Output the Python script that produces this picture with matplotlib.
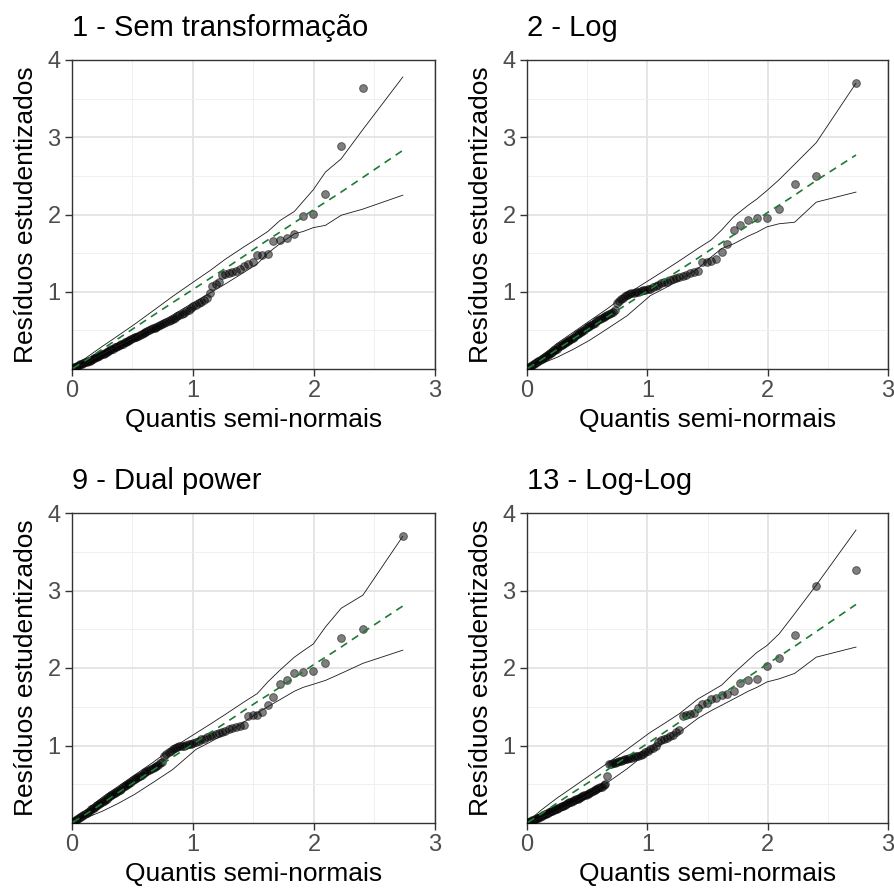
import numpy as np
import matplotlib
matplotlib.use("Agg")
import matplotlib.pyplot as plt
from matplotlib.ticker import MultipleLocator

plt.rcParams['font.family'] = ['Liberation Sans', 'DejaVu Sans']

nan = np.nan

# Half-normal theoretical quantiles for n = 100 ordered residuals
quantis = [0.008, 0.020, 0.033, 0.045, 0.058, 0.070, 0.083, 0.095, 0.108, 0.121,
           0.133, 0.146, 0.159, 0.171, 0.184, 0.197, 0.209, 0.222, 0.235, 0.248,
           0.261, 0.274, 0.287, 0.300, 0.313, 0.326, 0.339, 0.353, 0.366, 0.379,
           0.393, 0.406, 0.420, 0.434, 0.447, 0.461, 0.475, 0.489, 0.503, 0.518,
           0.532, 0.546, 0.561, 0.576, 0.591, 0.605, 0.621, 0.636, 0.651, 0.667,
           0.682, 0.698, 0.714, 0.731, 0.747, 0.764, 0.780, 0.798, 0.815, 0.832,
           0.850, 0.868, 0.887, 0.905, 0.924, 0.944, 0.963, 0.984, 1.004, 1.025,
           1.046, 1.068, 1.091, 1.114, 1.137, 1.161, 1.186, 1.212, 1.238, 1.266,
           1.294, 1.324, 1.354, 1.386, 1.420, 1.455, 1.492, 1.531, 1.573, 1.618,
           1.664, 1.717, 1.774, 1.838, 1.910, 1.994, 2.095, 2.224, 2.404, 2.734]

# Order positions (1-based) at which the simulated envelope is recorded
env_pos = [1, 10, 20, 30, 40, 50, 60, 70, 75, 80, 85, 88, 90, 92, 94, 95, 96, 97, 98, 99, 100]

titulos = ["1 - Sem transformação", "2 - Log", "9 - Dual power", "13 - Log-Log"]

# Sorted absolute studentized residuals
res_sem = [0.01, 0.02, 0.03, 0.04, 0.05, 0.06, 0.07, 0.075, 0.085, 0.095,
           0.10, 0.11, 0.12, 0.13, 0.14, 0.15, 0.16, 0.17, 0.18, 0.19,
           0.20, 0.21, 0.22, 0.235, 0.245, 0.255, 0.265, 0.28, 0.29, 0.30,
           0.31, 0.32, 0.33, 0.345, 0.355, 0.365, 0.375, 0.39, 0.40, 0.41,
           0.42, 0.43, 0.445, 0.455, 0.465, 0.48, 0.49, 0.50, 0.515, 0.525,
           0.535, 0.545, 0.555, 0.57, 0.58, 0.595, 0.61, 0.625, 0.64, 0.65,
           0.665, 0.68, 0.70, 0.715, 0.73, 0.75, 0.77, 0.79, 0.81, 0.83,
           0.85, 0.87, 0.89, 0.92, 0.98, 1.07, 1.10, 1.12, 1.22, 1.23,
           1.24, 1.26, 1.27, 1.30, 1.33, 1.36, 1.39, 1.47, 1.47, 1.49,
           1.66, 1.67, 1.70, 1.75, 1.98, 2.01, 2.26, 2.89, 3.64, nan]

res_log = [0.01, 0.02, 0.035, 0.05, 0.06, 0.075, 0.09, 0.10, 0.115, 0.13,
           0.14, 0.155, 0.17, 0.185, 0.20, 0.21, 0.225, 0.24, 0.25, 0.265,
           0.28, 0.295, 0.31, 0.32, 0.335, 0.35, 0.365, 0.38, 0.39, 0.405,
           0.42, 0.435, 0.45, 0.465, 0.48, 0.495, 0.51, 0.525, 0.54, 0.555,
           0.57, 0.585, 0.60, 0.615, 0.63, 0.645, 0.66, 0.675, 0.69, 0.705,
           0.715, 0.725, 0.74, 0.76, 0.85, 0.88, 0.90, 0.92, 0.94, 0.96,
           0.97, 0.98, 0.99, 1.00, 1.00, 1.01, 1.02, 1.02, 1.03, 1.04,
           1.06, 1.08, 1.09, 1.11, 1.12, 1.13, 1.15, 1.16, 1.18, 1.19,
           1.21, 1.22, 1.24, 1.25, 1.27, 1.39, 1.39, 1.40, 1.42, 1.52,
           1.62, 1.80, 1.86, 1.93, 1.95, 1.96, 2.07, 2.39, 2.50, 3.70]

res_dual = [0.01, 0.025, 0.04, 0.05, 0.065, 0.08, 0.09, 0.105, 0.12, 0.13,
            0.145, 0.16, 0.175, 0.19, 0.20, 0.215, 0.23, 0.245, 0.26, 0.27,
            0.285, 0.30, 0.315, 0.33, 0.345, 0.355, 0.37, 0.385, 0.40, 0.415,
            0.43, 0.445, 0.46, 0.475, 0.49, 0.505, 0.52, 0.535, 0.55, 0.565,
            0.58, 0.595, 0.61, 0.625, 0.64, 0.655, 0.67, 0.685, 0.70, 0.715,
            0.725, 0.735, 0.75, 0.77, 0.79, 0.86, 0.89, 0.91, 0.93, 0.95,
            0.97, 0.98, 0.99, 1.00, 1.00, 1.01, 1.02, 1.02, 1.03, 1.04,
            1.06, 1.08, 1.09, 1.11, 1.12, 1.13, 1.15, 1.16, 1.18, 1.19,
            1.21, 1.22, 1.24, 1.25, 1.27, 1.38, 1.39, 1.40, 1.43, 1.52,
            1.63, 1.80, 1.85, 1.94, 1.95, 1.96, 2.07, 2.39, 2.50, 3.70]

res_loglog = [0.01, 0.015, 0.025, 0.035, 0.045, 0.055, 0.065, 0.07, 0.08, 0.09,
              0.10, 0.11, 0.12, 0.13, 0.14, 0.15, 0.16, 0.165, 0.175, 0.185,
              0.195, 0.205, 0.215, 0.225, 0.235, 0.245, 0.255, 0.265, 0.275, 0.285,
              0.295, 0.305, 0.315, 0.325, 0.335, 0.345, 0.355, 0.365, 0.375, 0.39,
              0.40, 0.41, 0.42, 0.435, 0.45, 0.46, 0.47, 0.485, 0.50, 0.61,
              0.76, 0.765, 0.77, 0.78, 0.79, 0.80, 0.805, 0.81, 0.82, 0.83,
              0.835, 0.84, 0.85, 0.86, 0.87, 0.88, 0.89, 0.91, 0.93, 0.95,
              0.97, 1.00, 1.05, 1.07, 1.09, 1.10, 1.12, 1.14, 1.17, 1.20,
              1.38, 1.39, 1.41, 1.42, 1.48, 1.53, 1.55, 1.60, 1.61, 1.65,
              1.67, 1.70, 1.81, 1.84, 1.86, 2.02, 2.13, 2.42, 3.06, 3.27]

# Simulated envelope: lower band, median, upper band
inf_sem = [0.0, 0.08, 0.19, 0.30, 0.41, 0.55, 0.70, 0.88, 0.98, 1.10, 1.25, 1.36, 1.50, 1.62, 1.75, 1.78, 1.83, 1.86, 1.99, 2.07, 2.25]
med_sem = [0.01, 0.12, 0.255, 0.39, 0.535, 0.69, 0.86, 1.055, 1.17, 1.30, 1.46, 1.58, 1.67, 1.77, 1.895, 1.97, 2.06, 2.16, 2.29, 2.48, 2.83]
sup_sem = [0.01, 0.15, 0.29, 0.43, 0.58, 0.75, 0.94, 1.15, 1.27, 1.42, 1.58, 1.69, 1.78, 1.92, 2.04, 2.17, 2.32, 2.55, 2.72, 3.10, 3.78]

inf_log = [0.0, 0.07, 0.15, 0.25, 0.37, 0.52, 0.69, 0.95, 1.04, 1.15, 1.30, 1.45, 1.56, 1.62, 1.72, 1.77, 1.84, 1.88, 1.90, 2.16, 2.29]
med_log = [0.01, 0.12, 0.25, 0.385, 0.525, 0.675, 0.84, 1.035, 1.15, 1.28, 1.435, 1.55, 1.635, 1.735, 1.86, 1.93, 2.02, 2.12, 2.25, 2.44, 2.77]
sup_log = [0.02, 0.17, 0.33, 0.47, 0.62, 0.78, 0.97, 1.16, 1.27, 1.40, 1.56, 1.67, 1.80, 1.97, 2.12, 2.20, 2.31, 2.45, 2.65, 2.93, 3.70]

inf_dual = [0.0, 0.07, 0.15, 0.25, 0.37, 0.52, 0.69, 0.95, 1.04, 1.15, 1.30, 1.42, 1.50, 1.59, 1.70, 1.75, 1.79, 1.84, 1.93, 2.06, 2.23]
med_dual = [0.01, 0.12, 0.25, 0.39, 0.53, 0.68, 0.85, 1.045, 1.16, 1.29, 1.45, 1.565, 1.65, 1.75, 1.875, 1.95, 2.04, 2.14, 2.27, 2.46, 2.80]
sup_dual = [0.02, 0.17, 0.33, 0.47, 0.62, 0.78, 0.97, 1.16, 1.27, 1.40, 1.56, 1.67, 1.82, 1.97, 2.14, 2.22, 2.31, 2.53, 2.77, 2.94, 3.70]

inf_loglog = [0.0, 0.07, 0.15, 0.25, 0.37, 0.52, 0.70, 0.94, 1.04, 1.17, 1.35, 1.45, 1.52, 1.60, 1.70, 1.75, 1.82, 1.86, 1.93, 2.14, 2.27]
med_loglog = [0.01, 0.12, 0.255, 0.39, 0.53, 0.685, 0.855, 1.05, 1.165, 1.30, 1.455, 1.57, 1.66, 1.76, 1.885, 1.96, 2.05, 2.15, 2.28, 2.47, 2.82]
sup_loglog = [0.02, 0.17, 0.32, 0.46, 0.61, 0.77, 0.95, 1.17, 1.28, 1.41, 1.60, 1.70, 1.78, 1.93, 2.10, 2.20, 2.29, 2.44, 2.70, 3.07, 3.78]

paineis = [
    (res_sem, inf_sem, med_sem, sup_sem),
    (res_log, inf_log, med_log, sup_log),
    (res_dual, inf_dual, med_dual, sup_dual),
    (res_loglog, inf_loglog, med_loglog, sup_loglog),
]

W, H = 895, 891
fig = plt.figure(figsize=(W / 100, H / 100), dpi=100)

# axes boxes in pixels: left, top, right, bottom
caixas = [(72, 60, 435, 369), (527, 60, 888, 369),
          (72, 513, 435, 823), (527, 513, 888, 823)]

x_env = [quantis[p - 1] for p in env_pos]

for caixa, titulo, (res, inf, med, sup) in zip(caixas, titulos, paineis):
    l, t, r, b = caixa
    ax = fig.add_axes([l / W, 1 - b / H, (r - l) / W, (b - t) / H])
    ax.set_xlim(0, 3)
    ax.set_ylim(0, 4)
    ax.xaxis.set_major_locator(MultipleLocator(1))
    ax.xaxis.set_minor_locator(MultipleLocator(0.5))
    ax.set_yticks([1, 2, 3, 4])
    ax.yaxis.set_minor_locator(MultipleLocator(0.5))
    ax.grid(True, which='major', color='#E3E3E3', lw=1.3, zorder=0)
    ax.grid(True, which='minor', color='#F0F0F0', lw=0.7, zorder=0)
    ax.set_axisbelow(True)
    ax.tick_params(which='minor', length=0)
    ax.tick_params(which='major', length=4.7, width=1.0, color='#333333',
                   labelsize=17, labelcolor='#4D4D4D', pad=3.5)
    for sp in ax.spines.values():
        sp.set_color('#333333')
        sp.set_linewidth(1.0)

    ax.plot(quantis, res, linestyle='none', marker='o', ms=5.6,
            mfc='black', mec='black', mew=0.7, alpha=0.5, zorder=3)
    ax.plot(x_env, inf, color='#1a1a1a', lw=0.6, zorder=4)
    ax.plot(x_env, sup, color='#1a1a1a', lw=0.6, zorder=4)
    ax.plot(x_env, med, color='#1e7b34', lw=1.2, ls=(0, (4.5, 3.5)), zorder=4)

    ax.set_title(titulo, loc='left', fontsize=21, pad=17, color='black')
    ax.set_xlabel("Quantis semi-normais", fontsize=19, labelpad=4.3)
    ax.set_ylabel("Resíduos estudentizados", fontsize=19, labelpad=6.5)

fig.savefig("out.png", dpi=100)
